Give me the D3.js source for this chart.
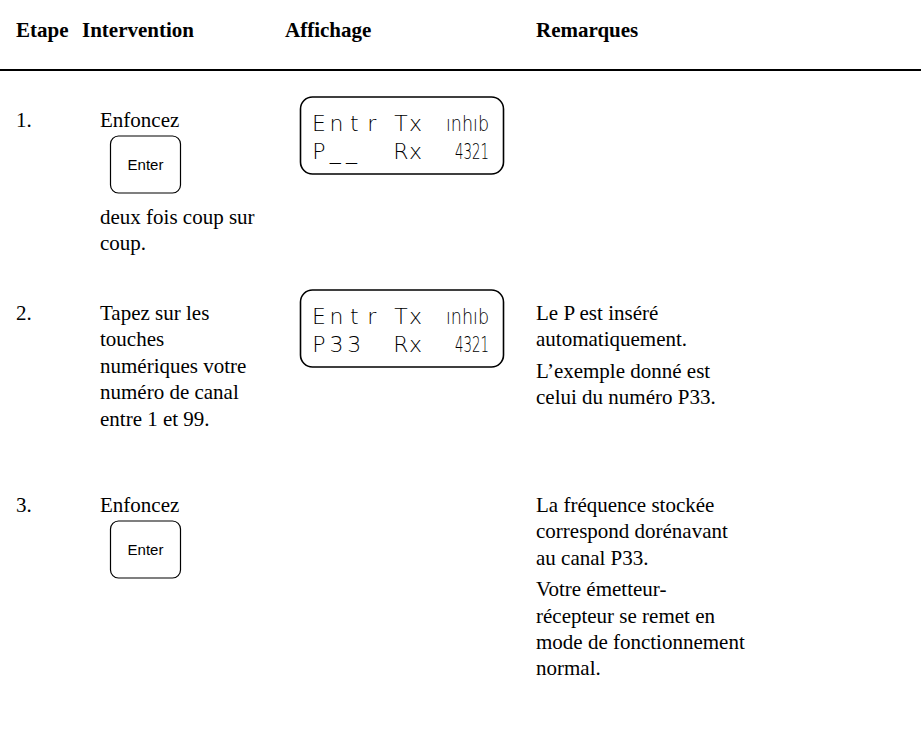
<!DOCTYPE html>
<html><head><meta charset="utf-8">
<script src="https://cdn.jsdelivr.net/npm/d3@7"></script>
<style>body{margin:0;background:#fff}</style>
</head><body><svg id="c" width="921" height="743"></svg>
<script>
// ---- data ----
const headers = ["Etape", "Intervention", "Affichage", "Remarques"];
const stepNumbers = ["1.", "2.", "3."];
const interventionBefore = [["Enfoncez"], ["Tapez sur les", "touches", "numériques votre", "numéro de canal", "entre 1 et 99."], ["Enfoncez"]];
const keyLabels = ["Enter", null, "Enter"];
const interventionAfter = [["deux fois coup sur", "coup."], [], []];
const displayLine1 = [["Entr", "Tx", "ınhıb"], ["Entr", "Tx", "ınhıb"], null];
const displayLine2 = [["P__", "Rx", "4321"], ["P33", "Rx", "4321"], null];
const remarks = [[], [["Le P est inséré", "automatiquement."], ["L’exemple donné est", "celui du numéro P33."]],
  [["La fréquence stockée", "correspond dorénavant", "au canal P33."], ["Votre émetteur-", "récepteur se remet en", "mode de fonctionnement", "normal."]]];

// ---- layout ----
const svg = d3.select("#c");
const col = d3.scaleOrdinal().domain(headers).range([16, 82, 285, 536]);
const serif = "'Liberation Serif','Times New Roman',serif";
const fs = 21, lh = 26.4;
const rowTop = [127, 320, 512];

svg.selectAll("text.h").data(headers).join("text")
  .attr("x", d => col(d)).attr("y", 37)
  .attr("font-family", serif).attr("font-weight", "bold").attr("font-size", 21)
  .text(d => d);
svg.append("line").attr("x1", 0).attr("x2", 921).attr("y1", 70).attr("y2", 70)
  .attr("stroke", "#000").attr("stroke-width", 2);

const body = (x, y, t) => svg.append("text").attr("x", x).attr("y", y)
  .attr("font-family", serif).attr("font-size", fs).text(t);

const lcdFont = "'DejaVu Sans','DejaVu Sans Mono',sans-serif";

stepNumbers.forEach((s, i) => {
  const y0 = rowTop[i];
  body(col("Etape"), y0, s);
  let y = y0;
  interventionBefore[i].forEach(t => { body(100, y, t); y += lh; });
  if (keyLabels[i]) {
    const ky = y0 + 9;
    svg.append("rect").attr("x", 110.5).attr("y", ky).attr("width", 70).attr("height", 57)
      .attr("rx", 8).attr("fill", "none").attr("stroke", "#000").attr("stroke-width", 1.2);
    svg.append("text").attr("x", 145.5).attr("y", ky + 34).attr("text-anchor", "middle")
      .attr("font-family", "'Liberation Sans',Arial,sans-serif").attr("font-size", 15).text(keyLabels[i]);
    y = ky + 57 + 31;
  }
  interventionAfter[i].forEach(t => { body(100, y, t); y += lh; });

  if (displayLine1[i]) {
    const by = y0 - 30;
    svg.append("rect").attr("x", 300.5).attr("y", by).attr("width", 203).attr("height", 77)
      .attr("rx", 12).attr("fill", "none").attr("stroke", "#000").attr("stroke-width", 1.6);
    [displayLine1[i], displayLine2[i]].forEach((line, li) => {
      const ty = by + 34 + li * 28;
      line.forEach((t, k) => {
        const txt = svg.append("text").attr("y", ty)
          .attr("font-family", lcdFont).attr("font-weight", 200).attr("font-size", 22);
        if (k === 0) {
          const step = t[1] === "_" ? 16.3 : 17.6;
          txt.attr("text-anchor", "middle");
          Array.from(t).forEach((c, q) => txt.append("tspan").attr("x", 319 + q * step).text(c));
        } else if (k === 1) {
          txt.attr("text-anchor", "middle");
          Array.from(t).forEach((c, q) => txt.append("tspan").attr("x", [401, 415.5][q]).text(c));
        } else {
          const x0 = /\d/.test(t) ? 455 : 446;
          txt.attr("x", x0).attr("textLength", 489 - x0).attr("lengthAdjust", "spacingAndGlyphs").text(t);
        }
      });
    });
  }

  let ry = y0;
  remarks[i].forEach(para => {
    para.forEach(t => { body(col("Remarques"), ry, t); ry += lh; });
    ry += 5;
  });
});
</script></body></html>
